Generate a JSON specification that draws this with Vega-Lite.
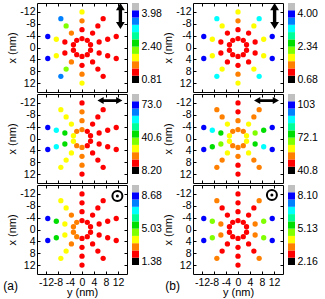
{
  "$schema": "https://vega.github.io/schema/vega-lite/v6.json",
  "padding": {"left": 3, "top": 2, "right": 0, "bottom": 0},
  "background": "white",
  "datasets": {
    "pts": [
      {"k":0,"r":3,"y":0,"x":-3,"a1":1,"a2":2,"a3":1,"b1":1,"b2":2,"b3":1},
      {"k":0,"r":6,"y":0,"x":-6,"a1":1,"a2":2,"a3":1,"b1":1,"b2":2,"b3":1},
      {"k":0,"r":9,"y":0,"x":-9,"a1":2,"a2":2,"a3":1,"b1":2,"b2":1,"b3":1},
      {"k":0,"r":12,"y":0,"x":-12,"a1":3,"a2":1,"a3":1,"b1":3,"b2":1,"b3":1},
      {"k":1,"r":3,"y":1.76,"x":-2.43,"a1":1,"a2":1,"a3":1,"b1":1,"b2":2,"b3":1},
      {"k":1,"r":6,"y":3.53,"x":-4.85,"a1":1,"a2":1,"a3":1,"b1":1,"b2":3,"b3":1},
      {"k":1,"r":9,"y":5.29,"x":-7.28,"a1":1,"a2":1,"a3":1,"b1":3,"b2":2,"b3":1},
      {"k":1,"r":12,"y":7.05,"x":-9.71,"a1":1,"a2":1,"a3":1,"b1":7,"b2":2,"b3":2},
      {"k":2,"r":3,"y":2.85,"x":-0.93,"a1":1,"a2":1,"a3":1,"b1":1,"b2":3,"b3":1},
      {"k":2,"r":6,"y":5.71,"x":-1.85,"a1":1,"a2":1,"a3":1,"b1":1,"b2":4,"b3":2},
      {"k":2,"r":9,"y":8.56,"x":-2.78,"a1":1,"a2":1,"a3":1,"b1":3,"b2":5,"b3":4},
      {"k":2,"r":12,"y":11.41,"x":-3.71,"a1":1,"a2":1,"a3":1,"b1":9,"b2":9,"b3":9},
      {"k":3,"r":3,"y":2.85,"x":0.93,"a1":1,"a2":1,"a3":1,"b1":1,"b2":3,"b3":1},
      {"k":3,"r":6,"y":5.71,"x":1.85,"a1":1,"a2":1,"a3":1,"b1":1,"b2":5,"b3":2},
      {"k":3,"r":9,"y":8.56,"x":2.78,"a1":1,"a2":1,"a3":1,"b1":3,"b2":7,"b3":4},
      {"k":3,"r":12,"y":11.41,"x":3.71,"a1":1,"a2":1,"a3":1,"b1":9,"b2":9,"b3":9},
      {"k":4,"r":3,"y":1.76,"x":2.43,"a1":1,"a2":1,"a3":1,"b1":1,"b2":2,"b3":1},
      {"k":4,"r":6,"y":3.53,"x":4.85,"a1":1,"a2":1,"a3":1,"b1":1,"b2":3,"b3":1},
      {"k":4,"r":9,"y":5.29,"x":7.28,"a1":1,"a2":1,"a3":1,"b1":3,"b2":2,"b3":1},
      {"k":4,"r":12,"y":7.05,"x":9.71,"a1":1,"a2":1,"a3":1,"b1":7,"b2":2,"b3":2},
      {"k":5,"r":3,"y":0,"x":3,"a1":1,"a2":2,"a3":1,"b1":1,"b2":2,"b3":1},
      {"k":5,"r":6,"y":0,"x":6,"a1":1,"a2":2,"a3":1,"b1":1,"b2":2,"b3":1},
      {"k":5,"r":9,"y":0,"x":9,"a1":2,"a2":2,"a3":1,"b1":2,"b2":1,"b3":1},
      {"k":5,"r":12,"y":0,"x":12,"a1":3,"a2":1,"a3":1,"b1":3,"b2":1,"b3":1},
      {"k":6,"r":3,"y":-1.76,"x":2.43,"a1":1,"a2":2,"a3":2,"b1":1,"b2":2,"b3":1},
      {"k":6,"r":6,"y":-3.53,"x":4.85,"a1":2,"a2":3,"a3":2,"b1":1,"b2":3,"b3":1},
      {"k":6,"r":9,"y":-5.29,"x":7.28,"a1":4,"a2":3,"a3":3,"b1":3,"b2":2,"b3":1},
      {"k":6,"r":12,"y":-7.05,"x":9.71,"a1":8,"a2":3,"a3":3,"b1":7,"b2":2,"b3":2},
      {"k":7,"r":3,"y":-2.85,"x":0.93,"a1":1,"a2":3,"a3":2,"b1":1,"b2":3,"b3":1},
      {"k":7,"r":6,"y":-5.71,"x":1.85,"a1":1,"a2":5,"a3":3,"b1":1,"b2":4,"b3":2},
      {"k":7,"r":9,"y":-8.56,"x":2.78,"a1":3,"a2":7,"a3":5,"b1":3,"b2":5,"b3":4},
      {"k":7,"r":12,"y":-11.41,"x":3.71,"a1":9,"a2":9,"a3":9,"b1":9,"b2":9,"b3":9},
      {"k":8,"r":3,"y":-2.85,"x":-0.93,"a1":1,"a2":3,"a3":2,"b1":1,"b2":3,"b3":1},
      {"k":8,"r":6,"y":-5.71,"x":-1.85,"a1":1,"a2":5,"a3":3,"b1":1,"b2":5,"b3":2},
      {"k":8,"r":9,"y":-8.56,"x":-2.78,"a1":3,"a2":7,"a3":5,"b1":3,"b2":7,"b3":4},
      {"k":8,"r":12,"y":-11.41,"x":-3.71,"a1":9,"a2":9,"a3":9,"b1":9,"b2":9,"b3":9},
      {"k":9,"r":3,"y":-1.76,"x":-2.43,"a1":1,"a2":2,"a3":2,"b1":1,"b2":2,"b3":1},
      {"k":9,"r":6,"y":-3.53,"x":-4.85,"a1":2,"a2":3,"a3":2,"b1":1,"b2":3,"b3":1},
      {"k":9,"r":9,"y":-5.29,"x":-7.28,"a1":4,"a2":3,"a3":3,"b1":3,"b2":2,"b3":1},
      {"k":9,"r":12,"y":-7.05,"x":-9.71,"a1":8,"a2":3,"a3":3,"b1":7,"b2":2,"b3":2}
    ],
    "cbar": [
      {"lv":0,"lo":0,"hi":1},{"lv":1,"lo":1,"hi":2},{"lv":2,"lo":2,"hi":3},{"lv":3,"lo":3,"hi":4},
      {"lv":4,"lo":4,"hi":5},{"lv":5,"lo":5,"hi":6},{"lv":6,"lo":6,"hi":7},{"lv":7,"lo":7,"hi":8},
      {"lv":8,"lo":8,"hi":9},{"lv":9,"lo":9,"hi":10},{"lv":10,"lo":10,"hi":11}
    ]
  },
  "hconcat": [
    {
      "title": {"text": "(a)", "orient": "bottom", "anchor": "start", "offset": -17, "fontSize": 12, "fontWeight": "normal", "font": "Liberation Sans", "color": "black", "dx": -3},
      "vconcat": [
        {"hconcat": [
          {"width": 90, "height": 89, "resolve": {"axis": {"x": "independent", "y": "independent"}}, "layer": [
            {"data": {"name": "pts"}, "mark": {"type": "circle", "size": 28, "opacity": 1},
             "encoding": {
               "x": {"field": "y", "type": "quantitative", "scale": {"domain": [-15, 15], "nice": false, "zero": false}, "axis": {"values": [-12,-8,-4,0,4,8,12], "labels": false, "title": null}},
               "y": {"field": "x", "type": "quantitative", "scale": {"domain": [-15, 15], "nice": false, "zero": false, "reverse": true}, "axis": {"values": [-12,-8,-4,0,4,8,12], "labelExpr": "replace(datum.label, '−', '-')", "title": "x (nm)", "labelPadding": 5, "titlePadding": 2}},
               "color": {"field": "a1", "type": "ordinal", "scale": {"domain": [0,1,2,3,4,5,6,7,8,9,10], "range": ["#000000","#ff0000","#ff8000","#ffff00","#80ff00","#00dd00","#00ff99","#00ffff","#0080ff","#0000ff","#c0c0c0"]}, "legend": null}
             }},
            {"data": {"values": [{"y": 12.8, "x": -10.6}]}, "mark": {"type": "point", "filled": true, "color": "black", "opacity": 1, "size": 676, "shape": "M0,-1L0.34,-0.45L0.13,-0.45L0.13,0.45L0.34,0.45L0,1L-0.34,0.45L-0.13,0.45L-0.13,-0.45L-0.34,-0.45Z"},
             "encoding": {"x": {"field": "y", "type": "quantitative", "axis": {"orient": "top", "values": [-12,-8,-4,0,4,8,12], "labels": false, "title": null}}, "y": {"field": "x", "type": "quantitative", "axis": {"orient": "right", "values": [-12,-8,-4,0,4,8,12], "labels": false, "title": null}}}}
          ]},
          {"width": 7, "height": 80, "view": {"stroke": null}, "data": {"name": "cbar"}, "mark": "rect",
           "encoding": {
             "y": {"field": "lo", "type": "quantitative", "scale": {"domain": [0, 11], "nice": false, "zero": false}, "axis": {"orient": "right", "values": [0.5, 5, 9.5], "labelExpr": "datum.value == 0.5 ? '0.81' : datum.value == 5 ? '2.40' : '3.98'", "ticks": false, "labelPadding": 2, "title": null}},
             "y2": {"field": "hi"},
             "color": {"field": "lv", "type": "ordinal", "legend": null}
           }}
        ], "spacing": 4},
        {"hconcat": [
          {"width": 90, "height": 89, "resolve": {"axis": {"x": "independent", "y": "independent"}}, "layer": [
            {"data": {"name": "pts"}, "mark": {"type": "circle", "size": 28, "opacity": 1},
             "encoding": {
               "x": {"field": "y", "type": "quantitative", "scale": {"domain": [-15, 15], "nice": false, "zero": false}, "axis": {"values": [-12,-8,-4,0,4,8,12], "labels": false, "title": null}},
               "y": {"field": "x", "type": "quantitative", "scale": {"domain": [-15, 15], "nice": false, "zero": false, "reverse": true}, "axis": {"values": [-12,-8,-4,0,4,8,12], "labelExpr": "replace(datum.label, '−', '-')", "title": "x (nm)", "labelPadding": 5, "titlePadding": 2}},
               "color": {"field": "a2", "type": "ordinal", "legend": null}
             }},
            {"data": {"values": [{"y": 9.3, "x": -12.8}]}, "mark": {"type": "point", "filled": true, "color": "black", "opacity": 1, "size": 625, "shape": "M-1,0L-0.5,-0.28L-0.5,-0.11L0.5,-0.11L0.5,-0.28L1,0L0.5,0.28L0.5,0.11L-0.5,0.11L-0.5,0.28Z"},
             "encoding": {"x": {"field": "y", "type": "quantitative", "axis": {"orient": "top", "values": [-12,-8,-4,0,4,8,12], "labels": false, "title": null}}, "y": {"field": "x", "type": "quantitative", "axis": {"orient": "right", "values": [-12,-8,-4,0,4,8,12], "labels": false, "title": null}}}}
          ]},
          {"width": 7, "height": 80, "view": {"stroke": null}, "data": {"name": "cbar"}, "mark": "rect",
           "encoding": {
             "y": {"field": "lo", "type": "quantitative", "scale": {"domain": [0, 11], "nice": false, "zero": false}, "axis": {"orient": "right", "values": [0.5, 5, 9.5], "labelExpr": "datum.value == 0.5 ? '8.20' : datum.value == 5 ? '40.6' : '73.0'", "ticks": false, "labelPadding": 2, "title": null}},
             "y2": {"field": "hi"},
             "color": {"field": "lv", "type": "ordinal", "legend": null}
           }}
        ], "spacing": 4},
        {"hconcat": [
          {"width": 90, "height": 89, "resolve": {"axis": {"x": "independent", "y": "independent"}}, "layer": [
            {"data": {"name": "pts"}, "mark": {"type": "circle", "size": 28, "opacity": 1},
             "encoding": {
               "x": {"field": "y", "type": "quantitative", "scale": {"domain": [-15, 15], "nice": false, "zero": false}, "axis": {"values": [-12,-8,-4,0,4,8,12], "labelExpr": "replace(datum.label, '−', '-')", "title": "y (nm)", "labelPadding": 6, "titlePadding": -1}},
               "y": {"field": "x", "type": "quantitative", "scale": {"domain": [-15, 15], "nice": false, "zero": false, "reverse": true}, "axis": {"values": [-12,-8,-4,0,4,8,12], "labelExpr": "replace(datum.label, '−', '-')", "title": "x (nm)", "labelPadding": 5, "titlePadding": 2}},
               "color": {"field": "a3", "type": "ordinal", "legend": null}
             }},
            {"data": {"values": [{"y": 11.8, "x": -11.3}]}, "mark": {"type": "point", "filled": false, "color": "black", "opacity": 1, "size": 100, "strokeWidth": 2},
             "encoding": {"x": {"field": "y", "type": "quantitative", "axis": {"orient": "top", "values": [-12,-8,-4,0,4,8,12], "labels": false, "title": null}}, "y": {"field": "x", "type": "quantitative", "axis": {"orient": "right", "values": [-12,-8,-4,0,4,8,12], "labels": false, "title": null}}}},
            {"data": {"values": [{"y": 11.8, "x": -11.3}]}, "mark": {"type": "circle", "color": "black", "opacity": 1, "size": 9},
             "encoding": {"x": {"field": "y", "type": "quantitative", "axis": null}, "y": {"field": "x", "type": "quantitative", "axis": null}}}
          ]},
          {"width": 7, "height": 80, "view": {"stroke": null}, "data": {"name": "cbar"}, "mark": "rect",
           "encoding": {
             "y": {"field": "lo", "type": "quantitative", "scale": {"domain": [0, 11], "nice": false, "zero": false}, "axis": {"orient": "right", "values": [0.5, 5, 9.5], "labelExpr": "datum.value == 0.5 ? '1.38' : datum.value == 5 ? '5.03' : '8.68'", "ticks": false, "labelPadding": 2, "title": null}},
             "y2": {"field": "hi"},
             "color": {"field": "lv", "type": "ordinal", "legend": null}
           }}
        ], "spacing": 4}
      ],
      "spacing": 0
    },
    {
      "title": {"text": "(b)", "orient": "bottom", "anchor": "start", "offset": -17, "fontSize": 12, "fontWeight": "normal", "font": "Liberation Sans", "color": "black", "dx": 3},
      "vconcat": [
        {"hconcat": [
          {"width": 90, "height": 89, "resolve": {"axis": {"x": "independent", "y": "independent"}}, "layer": [
            {"data": {"name": "pts"}, "mark": {"type": "circle", "size": 28, "opacity": 1},
             "encoding": {
               "x": {"field": "y", "type": "quantitative", "scale": {"domain": [-15, 15], "nice": false, "zero": false}, "axis": {"values": [-12,-8,-4,0,4,8,12], "labels": false, "title": null}},
               "y": {"field": "x", "type": "quantitative", "scale": {"domain": [-15, 15], "nice": false, "zero": false, "reverse": true}, "axis": {"values": [-12,-8,-4,0,4,8,12], "labelExpr": "replace(datum.label, '−', '-')", "title": "x (nm)", "labelPadding": 5, "titlePadding": 2}},
               "color": {"field": "b1", "type": "ordinal", "legend": null}
             }},
            {"data": {"values": [{"y": 12.2, "x": -10.6}]}, "mark": {"type": "point", "filled": true, "color": "black", "opacity": 1, "size": 676, "shape": "M0,-1L0.34,-0.45L0.13,-0.45L0.13,0.45L0.34,0.45L0,1L-0.34,0.45L-0.13,0.45L-0.13,-0.45L-0.34,-0.45Z"},
             "encoding": {"x": {"field": "y", "type": "quantitative", "axis": {"orient": "top", "values": [-12,-8,-4,0,4,8,12], "labels": false, "title": null}}, "y": {"field": "x", "type": "quantitative", "axis": {"orient": "right", "values": [-12,-8,-4,0,4,8,12], "labels": false, "title": null}}}}
          ]},
          {"width": 7, "height": 80, "view": {"stroke": null}, "data": {"name": "cbar"}, "mark": "rect",
           "encoding": {
             "y": {"field": "lo", "type": "quantitative", "scale": {"domain": [0, 11], "nice": false, "zero": false}, "axis": {"orient": "right", "values": [0.5, 5, 9.5], "labelExpr": "datum.value == 0.5 ? '0.68' : datum.value == 5 ? '2.34' : '4.00'", "ticks": false, "labelPadding": 2, "title": null}},
             "y2": {"field": "hi"},
             "color": {"field": "lv", "type": "ordinal", "legend": null}
           }}
        ], "spacing": 4},
        {"hconcat": [
          {"width": 90, "height": 89, "resolve": {"axis": {"x": "independent", "y": "independent"}}, "layer": [
            {"data": {"name": "pts"}, "mark": {"type": "circle", "size": 28, "opacity": 1},
             "encoding": {
               "x": {"field": "y", "type": "quantitative", "scale": {"domain": [-15, 15], "nice": false, "zero": false}, "axis": {"values": [-12,-8,-4,0,4,8,12], "labels": false, "title": null}},
               "y": {"field": "x", "type": "quantitative", "scale": {"domain": [-15, 15], "nice": false, "zero": false, "reverse": true}, "axis": {"values": [-12,-8,-4,0,4,8,12], "labelExpr": "replace(datum.label, '−', '-')", "title": "x (nm)", "labelPadding": 5, "titlePadding": 2}},
               "color": {"field": "b2", "type": "ordinal", "legend": null}
             }},
            {"data": {"values": [{"y": 9.5, "x": -12.8}]}, "mark": {"type": "point", "filled": true, "color": "black", "opacity": 1, "size": 625, "shape": "M-1,0L-0.5,-0.28L-0.5,-0.11L0.5,-0.11L0.5,-0.28L1,0L0.5,0.28L0.5,0.11L-0.5,0.11L-0.5,0.28Z"},
             "encoding": {"x": {"field": "y", "type": "quantitative", "axis": {"orient": "top", "values": [-12,-8,-4,0,4,8,12], "labels": false, "title": null}}, "y": {"field": "x", "type": "quantitative", "axis": {"orient": "right", "values": [-12,-8,-4,0,4,8,12], "labels": false, "title": null}}}}
          ]},
          {"width": 7, "height": 80, "view": {"stroke": null}, "data": {"name": "cbar"}, "mark": "rect",
           "encoding": {
             "y": {"field": "lo", "type": "quantitative", "scale": {"domain": [0, 11], "nice": false, "zero": false}, "axis": {"orient": "right", "values": [0.5, 5, 9.5], "labelExpr": "datum.value == 0.5 ? '40.8' : datum.value == 5 ? '72.1' : '103'", "ticks": false, "labelPadding": 2, "title": null}},
             "y2": {"field": "hi"},
             "color": {"field": "lv", "type": "ordinal", "legend": null}
           }}
        ], "spacing": 4},
        {"hconcat": [
          {"width": 90, "height": 89, "resolve": {"axis": {"x": "independent", "y": "independent"}}, "layer": [
            {"data": {"name": "pts"}, "mark": {"type": "circle", "size": 28, "opacity": 1},
             "encoding": {
               "x": {"field": "y", "type": "quantitative", "scale": {"domain": [-15, 15], "nice": false, "zero": false}, "axis": {"values": [-12,-8,-4,0,4,8,12], "labelExpr": "replace(datum.label, '−', '-')", "title": "y (nm)", "labelPadding": 6, "titlePadding": -1}},
               "y": {"field": "x", "type": "quantitative", "scale": {"domain": [-15, 15], "nice": false, "zero": false, "reverse": true}, "axis": {"values": [-12,-8,-4,0,4,8,12], "labelExpr": "replace(datum.label, '−', '-')", "title": "x (nm)", "labelPadding": 5, "titlePadding": 2}},
               "color": {"field": "b3", "type": "ordinal", "legend": null}
             }},
            {"data": {"values": [{"y": 11.3, "x": -11.6}]}, "mark": {"type": "point", "filled": false, "color": "black", "opacity": 1, "size": 100, "strokeWidth": 2},
             "encoding": {"x": {"field": "y", "type": "quantitative", "axis": {"orient": "top", "values": [-12,-8,-4,0,4,8,12], "labels": false, "title": null}}, "y": {"field": "x", "type": "quantitative", "axis": {"orient": "right", "values": [-12,-8,-4,0,4,8,12], "labels": false, "title": null}}}},
            {"data": {"values": [{"y": 11.3, "x": -11.6}]}, "mark": {"type": "circle", "color": "black", "opacity": 1, "size": 9},
             "encoding": {"x": {"field": "y", "type": "quantitative", "axis": null}, "y": {"field": "x", "type": "quantitative", "axis": null}}}
          ]},
          {"width": 7, "height": 80, "view": {"stroke": null}, "data": {"name": "cbar"}, "mark": "rect",
           "encoding": {
             "y": {"field": "lo", "type": "quantitative", "scale": {"domain": [0, 11], "nice": false, "zero": false}, "axis": {"orient": "right", "values": [0.5, 5, 9.5], "labelExpr": "datum.value == 0.5 ? '2.16' : datum.value == 5 ? '5.13' : '8.10'", "ticks": false, "labelPadding": 2, "title": null}},
             "y2": {"field": "hi"},
             "color": {"field": "lv", "type": "ordinal", "legend": null}
           }}
        ], "spacing": 4}
      ],
      "spacing": 0
    }
  ],
  "spacing": 0,
  "config": {
    "font": "Liberation Sans",
    "view": {"stroke": "black", "strokeWidth": 1},
    "axis": {"domain": false, "grid": false, "tickColor": "black", "tickSize": -3, "tickWidth": 1, "labelFont": "Liberation Sans", "labelFontSize": 10.5, "labelColor": "black", "titleFont": "Liberation Sans", "titleFontSize": 11, "titleFontWeight": "normal", "titleColor": "black", "labelOverlap": false, "labelFlush": false, "labelBound": false}
  }
}
